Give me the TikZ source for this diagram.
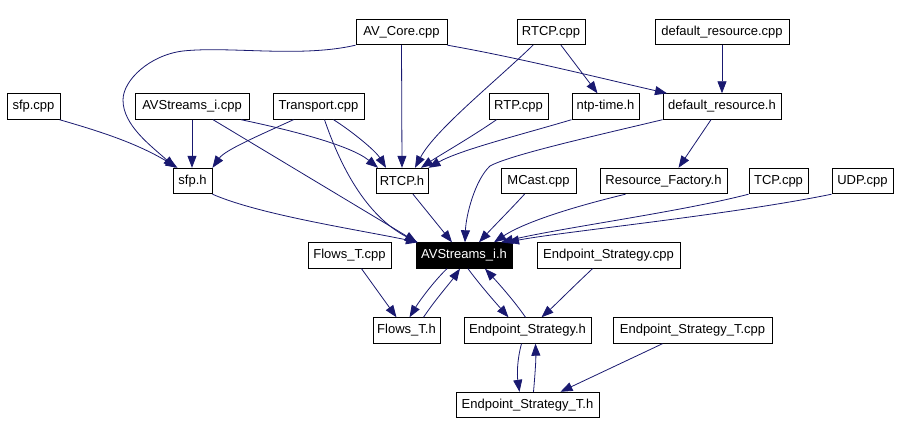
\documentclass[tikz,border=0pt]{standalone}
\usepackage{fontspec}
\setmainfont{Liberation Sans}
\usetikzlibrary{arrows.meta}
\definecolor{mblue}{RGB}{25,25,112}
\begin{document}
\begin{tikzpicture}[x=1pt,y=-1pt,
  box/.style={draw=black, line width=0.9pt, fill=white, minimum height=25.5pt, inner sep=0pt, font=\fontsize{13}{15}\selectfont},
  hbox/.style={box, fill=black, text=white},
  conn/.style={draw=mblue, line width=0.8pt, -{Triangle[length=12pt,width=9pt]}}]
\useasboundingbox[fill=white] (0,0) rectangle (900,435);
% row 1
\node[box, minimum width=91pt] (avcore) at (401.5,32) {AV\_Core.cpp};
\node[box, minimum width=68pt] (rtcpcpp) at (551,32) {RTCP.cpp};
\node[box, minimum width=134pt] (drcpp) at (722,32) {default\_resource.cpp};
% row 2
\node[box, minimum width=53pt] (sfpcpp) at (33.5,106.5) {sfp.cpp};
\node[box, minimum width=114pt] (avicpp) at (192,106.5) {AVStreams\_i.cpp};
\node[box, minimum width=91pt] (transport) at (318.5,106.5) {Transport.cpp};
\node[box, minimum width=59pt] (rtp) at (518.5,106.5) {RTP.cpp};
\node[box, minimum width=67pt] (ntp) at (605.5,106.5) {ntp-time.h};
\node[box, minimum width=118pt] (drh) at (722,106.5) {default\_resource.h};
% row 3
\node[box, minimum width=39pt] (sfph) at (192.5,181) {sfp.h};
\node[box, minimum width=52pt] (rtcph) at (402,181) {RTCP.h};
\node[box, minimum width=75pt] (mcast) at (538.5,181) {MCast.cpp};
\node[box, minimum width=127pt] (rf) at (663.5,181) {Resource\_Factory.h};
\node[box, minimum width=59pt] (tcp) at (778.5,181) {TCP.cpp};
\node[box, minimum width=61pt] (udp) at (862.5,181) {UDP.cpp};
% row 4
\node[hbox, minimum width=96pt] (avih) at (464,255.5) {AVStreams\_i.h};
\node[box, minimum width=83pt] (flowscpp) at (349.5,255.5) {Flows\_T.cpp};
\node[box, minimum width=143pt] (escpp) at (608.5,255.5) {Endpoint\_Strategy.cpp};
% row 5
\node[box, minimum width=67pt] (flowsh) at (406.5,330.5) {Flows\_T.h};
\node[box, minimum width=127pt] (esh) at (527.5,330.5) {Endpoint\_Strategy.h};
\node[box, minimum width=159pt] (estcpp) at (692.5,330.5) {Endpoint\_Strategy\_T.cpp};
% row 6
\node[box, minimum width=143pt] (esth) at (527.5,405) {Endpoint\_Strategy\_T.h};
% edges
\draw[conn] (avcore.south west) .. controls (300,58) and (230,46) .. (183,51) .. controls (150,55) and (123,80) .. (123,100) .. controls (123,125) and (150,145) .. ([xshift=-17pt]sfph.north);
\draw[conn] (avcore.south) -- (rtcph.north);
\draw[conn] (avcore.south east) .. controls (520,58) and (600,78) .. ([xshift=-55pt]drh.north);
\draw[conn] ([xshift=-18pt]rtcpcpp.south) .. controls (495,82) and (435,130) .. ([xshift=13pt]rtcph.north);
\draw[conn] ([xshift=10pt]rtcpcpp.south) -- ([xshift=-8pt]ntp.north);
\draw[conn] (drcpp.south) -- (drh.north);
\draw[conn] ([xshift=26pt]sfpcpp.south) .. controls (95,130) and (135,142) .. ([xshift=-15pt]sfph.north);
\draw[conn] (avicpp.south) -- ([xshift=-0.5pt]sfph.north);
\draw[conn] ([xshift=49pt]avicpp.south) .. controls (290,130) and (350,145) .. ([xshift=-24pt]rtcph.north);
\draw[conn] ([xshift=21pt]avicpp.south) -- ([xshift=-47pt]avih.north);
\draw[conn] ([xshift=-25pt]transport.south) .. controls (260,135) and (225,150) .. (sfph.north east);
\draw[conn] ([xshift=15pt]transport.south) .. controls (350,130) and (375,150) .. ([xshift=-16pt]rtcph.north);
\draw[conn] ([xshift=6pt]transport.south) .. controls (340,165) and (365,215) .. ([xshift=-47pt]avih.north);
\draw[conn] ([xshift=-22pt]rtp.south) .. controls (470,138) and (440,155) .. ([xshift=19pt]rtcph.north);
\draw[conn] (ntp.south west) .. controls (520,135) and (460,150) .. (rtcph.north east);
\draw[conn] (drh.south west) .. controls (590,137) and (510,155) .. (490,166) .. controls (475,180) and (466,215) .. ([xshift=1pt]avih.north);
\draw[conn] ([xshift=-11pt]drh.south) -- ([xshift=15pt]rf.north);
\draw[conn] (sfph.south east) .. controls (260,215) and (360,230) .. ([xshift=-46pt]avih.north);
\draw[conn] ([xshift=11pt]rtcph.south) -- ([xshift=-12pt]avih.north);
\draw[conn] ([xshift=-14pt]mcast.south) .. controls (510,210) and (495,225) .. ([xshift=15pt]avih.north);
\draw[conn] ([xshift=-38pt]rf.south) .. controls (560,210) and (520,225) .. ([xshift=30pt]avih.north);
\draw[conn] (tcp.south west) .. controls (680,212) and (560,228) .. ([xshift=37pt]avih.north);
\draw[conn] (udp.south west) .. controls (730,215) and (560,232) .. ([xshift=43pt]avih.north);
\draw[conn] ([xshift=12pt]flowscpp.south) -- ([xshift=-10pt]flowsh.north);
\draw[conn] ([xshift=-17pt]avih.south) .. controls (435,280) and (420,300) .. ([xshift=3pt]flowsh.north);
\draw[conn] ([xshift=17pt]flowsh.north) .. controls (435,300) and (450,283) .. ([xshift=-4pt]avih.south);
\draw[conn] ([xshift=4pt]avih.south) .. controls (480,285) and (495,302) .. ([xshift=-19pt]esh.north);
\draw[conn] ([xshift=-2pt]esh.north) .. controls (515,302) and (500,285) .. ([xshift=21pt]avih.south);
\draw[conn] ([xshift=-16pt]escpp.south) .. controls (575,285) and (555,305) .. ([xshift=14pt]esh.north);
\draw[conn] ([xshift=-6pt]esh.south) .. controls (517,360) and (517,375) .. ([xshift=-8pt]esth.north);
\draw[conn] ([xshift=6pt]esth.north) .. controls (535,375) and (536,360) .. ([xshift=8pt]esh.south);
\draw[conn] ([xshift=-30pt]estcpp.south) -- ([xshift=33pt]esth.north);
\end{tikzpicture}
\end{document}
